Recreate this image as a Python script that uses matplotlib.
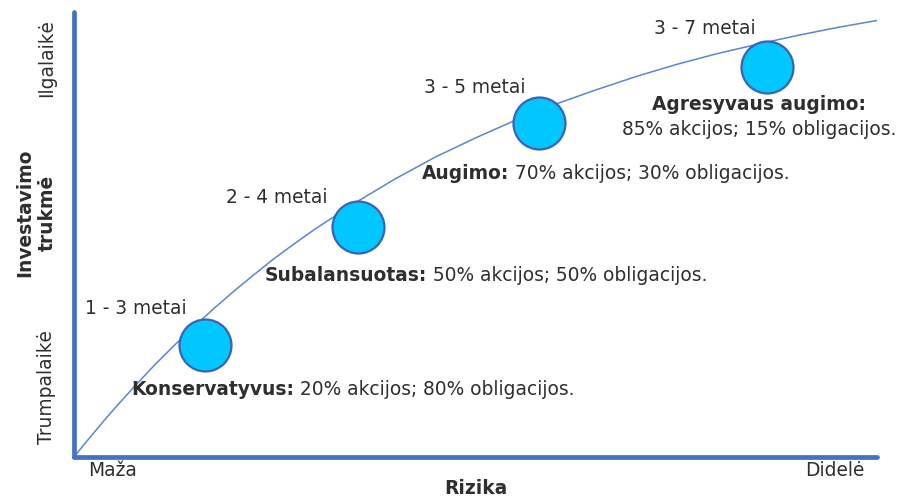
import matplotlib
matplotlib.use("Agg")
import matplotlib.pyplot as plt

plt.rcParams['font.family'] = ['DejaVu Sans']

# Rizikos ir investavimo trukmės kreivė (0-100 abiejose ašyse)
curve_x = [0, 1.25, 2.5, 3.75, 5, 7.5, 10, 12.5, 15, 17.5, 20, 22.5, 25, 27.5, 30,
           35, 40, 45, 50, 55, 60, 65, 70, 75, 80, 85, 90, 95, 100]
curve_y = [0, 2.8, 5.5, 8.2, 10.8, 15.8, 20.6, 25.1, 29.4, 33.5, 37.4, 41.1, 44.7,
           48.0, 51.2, 57.1, 62.5, 67.4, 71.7, 75.7, 79.3, 82.5, 85.5, 88.2, 90.6,
           92.7, 94.7, 96.5, 98.1]

# Portfelių taškai
risk = [16.3, 35.4, 57.9, 86.3]
horizon = [25.2, 51.7, 75.1, 87.6]
terms = ['1 - 3 metai', '2 - 4 metai', '3 - 5 metai', '3 - 7 metai']
names = ['Konservatyvus:', 'Subalansuotas:', 'Augimo:', 'Agresyvaus augimo:']
mixes = ['20% akcijos; 80% obligacijos.', '50% akcijos; 50% obligacijos.',
         '70% akcijos; 30% obligacijos.', '85% akcijos; 15% obligacijos.']

# užrašų vietos
term_pos = [(7.7, 33.3), (25.3, 58.4), (49.9, 83.1), (78.6, 96.4)]
name_pos = [(7.1, 15.1), (23.8, 40.7), (43.3, 63.8), (85.3, 79.3)]

axis_blue = '#4472C4'
text_col = '#2e2e2e'
fs = 13.4

fig = plt.figure(figsize=(9, 4.99), dpi=100)
ax = fig.add_axes([74 / 900, 42 / 499, 803 / 900, 445 / 499])
ax.set_xlim(0, 100)
ax.set_ylim(0, 100)
for s in ['top', 'right']:
    ax.spines[s].set_visible(False)
for s in ['left', 'bottom']:
    ax.spines[s].set_color(axis_blue)
    ax.spines[s].set_linewidth(3.4)
    ax.spines[s].set_capstyle('round')
ax.set_xticks([])
ax.set_yticks([])

ax.plot(curve_x, curve_y, color='#5B85D0', lw=1.1, zorder=2)
ax.scatter(risk, horizon, s=1400, color='#00C8FF', edgecolor='#3A62B8',
           linewidth=1.6, zorder=3)

for (x, y), t in zip(term_pos, terms):
    ax.text(x, y, t, ha='center', va='center', fontsize=fs, color=text_col)

for i in range(3):
    x, y = name_pos[i]
    b = ax.text(x, y, names[i], ha='left', va='center', fontsize=fs,
                fontweight='bold', color=text_col)
    ax.annotate(' ' + mixes[i], xy=(1, 0), xycoords=b, ha='left', va='bottom',
                fontsize=fs, color=text_col)

x, y = name_pos[3]
ax.text(x, y, names[3], ha='center', va='center', fontsize=fs,
        fontweight='bold', color=text_col)
ax.text(x, y - 5.8, mixes[3], ha='center', va='center', fontsize=fs, color=text_col)

# ašių užrašai
fig.text(47 / 900, 1 - 58 / 499, 'Ilgalaikė', rotation=90, ha='center', va='center',
         fontsize=fs, color=text_col)
fig.text(47 / 900, 1 - 387 / 499, 'Trumpalaikė', rotation=90, ha='center', va='center',
         fontsize=fs, color=text_col)
fig.text(36 / 900, 1 - 213 / 499, 'Investavimo\ntrukmė', rotation=90, ha='center',
         va='center', fontsize=fs, fontweight='bold', color=text_col, linespacing=1.25)
fig.text(113 / 900, 1 - 471 / 499, 'Maža', ha='center', va='center',
         fontsize=fs, color=text_col)
fig.text(835 / 900, 1 - 471 / 499, 'Didelė', ha='center', va='center',
         fontsize=fs, color=text_col)
fig.text(476 / 900, 1 - 488 / 499, 'Rizika', ha='center', va='center',
         fontsize=fs, fontweight='bold', color=text_col)

fig.savefig('out.png', dpi=100)
